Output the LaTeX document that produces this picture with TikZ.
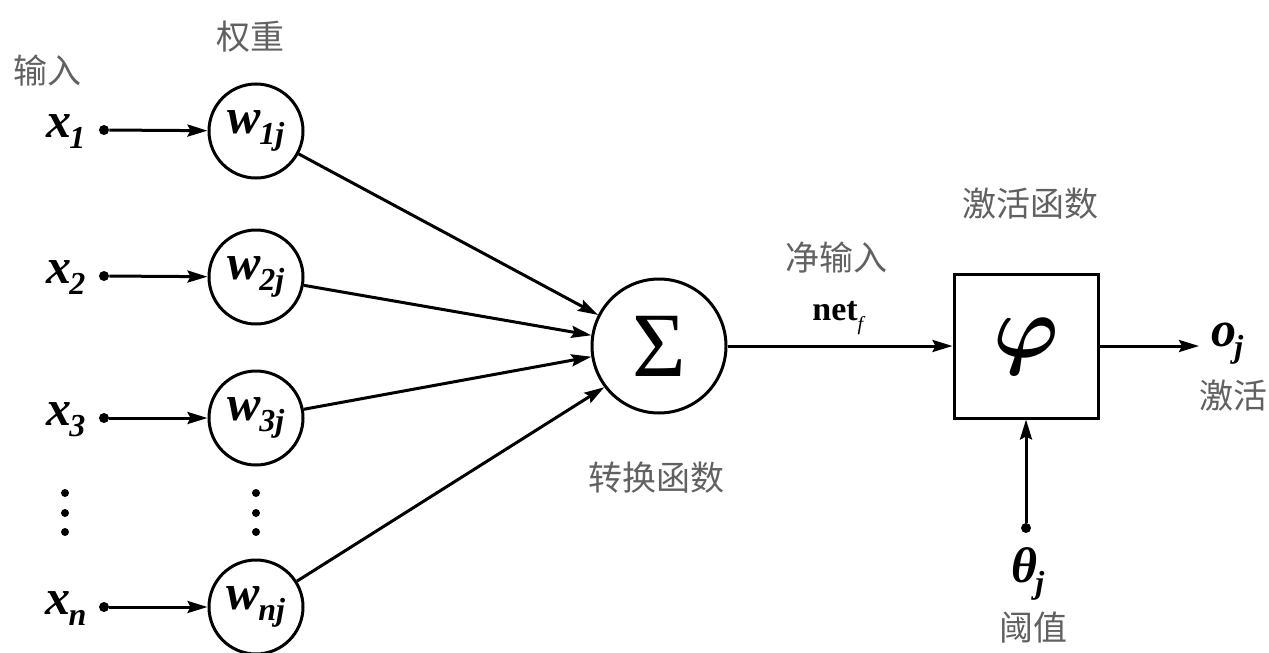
\documentclass[tikz,border=0pt]{standalone}
\usepackage{amsmath}
\usepackage{fontspec}
\setmainfont{Liberation Serif}
\newfontfamily\cjk{Noto Sans CJK SC}
\usetikzlibrary{arrows.meta}
\newcommand\varsub[2]{\textbf{\textit{#1}}\kern-0.04em\raisebox{-0.22em}{\fontsize{16}{16}\selectfont\textbf{\textit{#2}}}}
\begin{document}
\begin{tikzpicture}[x=0.5pt,y=-0.5pt,
  wnode/.style={circle,draw,line width=1.5pt,minimum size=47pt,inner sep=0pt,font=\fontsize{25}{25}\selectfont},
  var/.style={font=\fontsize{25}{25}\selectfont,inner sep=0pt},
  cn/.style={font=\cjk\fontsize{17}{17}\selectfont,text=black!62,inner sep=0pt},
  arr/.style={line width=1.5pt,-{Stealth[length=10pt,width=6pt,inset=1.5pt]}},
  dotnode/.style={circle,fill,inner sep=0pt,minimum size=5pt}]
\useasboundingbox (0,0) rectangle (1269,653);
% labels
\node[cn] (lin) at (47,71) {输入};
\node[cn] (lw) at (250,37) {权重};
% weights
\node[wnode] (w1) at (256,131) {\varsub{w}{1j}};
\node[wnode] (w2) at (256,277) {\varsub{w}{2j}};
\node[wnode] (w3) at (256,418) {\varsub{w}{3j}};
\node[wnode] (wn) at (256,607) {\varsub{w}{nj}};
% inputs
\node[var] (x1) at (66,132) {\varsub{x}{1}};
\node[var] (x2) at (66,278) {\varsub{x}{2}};
\node[var] (x3) at (66,420) {\varsub{x}{3}};
\node[var] (xn) at (66,609) {\varsub{x}{n}};
\node[dotnode] (d1) at (104,130) {};
\node[dotnode] (d2) at (104,276) {};
\node[dotnode] (d3) at (104,418) {};
\node[dotnode] (dn) at (104,607) {};
\draw[arr] (d1) -- (w1);
\draw[arr] (d2) -- (w2);
\draw[arr] (d3) -- (w3);
\draw[arr] (dn) -- (wn);
% vertical ellipses
\foreach \yy in {493,513,532}{
  \fill (65,\yy) circle[radius=2pt];
  \fill (256,\yy) circle[radius=2pt];
}
% summation
\node[circle,draw,line width=1.5pt,minimum size=67pt,inner sep=0pt,font=\fontsize{46}{46}\selectfont] (sig) at (659,346) {Σ};
\draw[arr] (w1) -- (sig.153);
\draw[arr] (w2) -- (sig.171);
\draw[arr] (w3) -- (sig.189);
\draw[arr] (wn) -- (sig.217);
\node[cn] (ltr) at (656,478) {转换函数};
\node[cn] (lnet) at (836,258) {净输入};
\node[inner sep=0pt,font=\fontsize{17}{17}\selectfont] (net) at (839,318) {\textbf{net}\raisebox{-0.3em}{\fontsize{10}{10}\selectfont\textit{f}}};
% activation
\node[draw,line width=1.5pt,minimum size=72pt,inner sep=0pt] (phi) at (1026,346) {\scalebox{4.4}{$\boldsymbol{\varphi}$}};
\node[cn] (lact) at (1030,204) {激活函数};
\draw[arr] (sig) -- (phi);
\coordinate (oend) at (1199,346);
\draw[arr] (phi) -- (oend);
\node[var,anchor=west] (oj) at (1211,344) {\varsub{o}{j}};
\node[cn] (lo) at (1233,396) {激活};
\node[dotnode] (th) at (1026,528) {};
\draw[arr] (th) -- (phi);
\node[var] (theta) at (1028,574) {\varsub{θ}{j}};
\node[cn] (lth) at (1033,628) {阈值};
\end{tikzpicture}
\end{document}
